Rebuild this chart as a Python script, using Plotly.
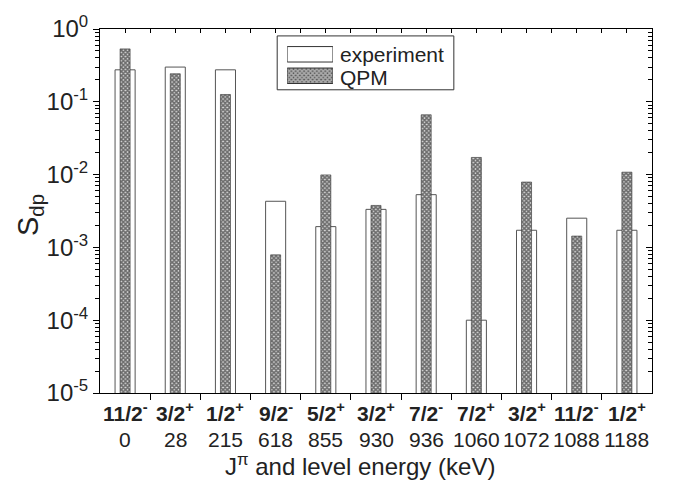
import plotly.graph_objects as go

# Level data: spin-parity, level energy (keV), spectroscopic factors
spins = ["11/2<sup>-</sup>", "3/2<sup>+</sup>", "1/2<sup>+</sup>", "9/2<sup>-</sup>", "5/2<sup>+</sup>",
         "3/2<sup>+</sup>", "7/2<sup>-</sup>", "7/2<sup>+</sup>", "3/2<sup>+</sup>", "11/2<sup>-</sup>",
         "1/2<sup>+</sup>"]
energies = ["0", "28", "215", "618", "855", "930", "936", "1060", "1072", "1088", "1188"]
s_exp = [0.275, 0.30, 0.275, 0.0043, 0.00193, 0.00333, 0.0053, 0.00010, 0.00172, 0.00252, 0.00172]
s_qpm = [0.533, 0.243, 0.126, 0.00079, 0.0099, 0.00377, 0.0663, 0.0172, 0.0079, 0.00143, 0.0108]
legend_names = ["experiment", "QPM"]

FONT = "Liberation Sans, Arial, sans-serif"
TXT = "#222"
idx = list(range(len(spins)))
bounds = [i + 0.5 for i in idx[:-1]]
decades = list(range(-5, 1))
major_vals = [10.0 ** e for e in decades]
major_text = ["10<sup>%d</sup>" % e for e in decades]
minor_vals = [m * 10.0 ** e for e in decades[:-1] for m in range(2, 10)]

QPM_FILL = "#555"
qpm_pattern = dict(shape="x", size=3, solidity=0.75, fgcolor="#000", bgcolor="#d8d8d8")

fig = go.Figure()
fig.add_trace(go.Bar(
    x=idx, y=s_exp, width=0.4, name=legend_names[0], showlegend=False,
    marker=dict(color="white", line=dict(color="#555", width=1)),
))
fig.add_trace(go.Bar(
    x=idx, y=s_qpm, width=0.2, name=legend_names[1], showlegend=False,
    xaxis="x2", yaxis="y2",
    marker=dict(color=QPM_FILL, pattern=qpm_pattern, line=dict(color="#333", width=0.6)),
))

# legend swatches on their own small axes
fig.add_trace(go.Bar(
    x=[1, 1], y=[1.5, 0.5], orientation="h", width=[0.72, 0.72], showlegend=False,
    xaxis="x3", yaxis="y3", hoverinfo="skip",
    marker=dict(color=["white", QPM_FILL],
                pattern=dict(shape=["", "x"], size=3, solidity=0.75, fgcolor="#000",
                             bgcolor="#d8d8d8"),
                line=dict(color="#333", width=1)),
))

axis_common = dict(showgrid=False, zeroline=False, showline=True, linecolor="black", linewidth=1)

fig.update_layout(
    width=684, height=480,
    margin=dict(l=100, r=32, t=21, b=87),
    paper_bgcolor="white", plot_bgcolor="white",
    barmode="overlay",
    font=dict(family=FONT, color=TXT),
    xaxis=dict(**axis_common, range=[-0.5, 10.5], tickmode="array", tickvals=idx,
               ticktext=[""] * len(idx), ticks="",
               minor=dict(tickmode="array", tickvals=bounds,
                          ticks="outside", ticklen=6, tickcolor="black")),
    xaxis2=dict(**axis_common, overlaying="x", side="top", anchor="y2", range=[-0.5, 10.5],
                tickmode="array", tickvals=[i * 0.5 - 0.5 for i in range(1, 22)],
                ticks="inside", ticklen=4, tickcolor="black", showticklabels=False),
    xaxis4=dict(showgrid=False, zeroline=False, showline=False, overlaying="x", side="bottom",
                anchor="y", range=[-0.5, 10.5], tickmode="array", tickvals=bounds,
                ticks="inside", ticklen=5, tickcolor="black", showticklabels=False),
    yaxis=dict(**axis_common, type="log", range=[-5, 0], tickmode="array",
               tickvals=major_vals, ticktext=major_text, ticks="outside", ticklen=6,
               tickcolor="black", tickfont=dict(size=24, family=FONT, color=TXT),
               minor=dict(tickmode="array", tickvals=minor_vals, ticks="outside",
                          ticklen=4, tickcolor="black")),
    yaxis2=dict(**axis_common, type="log", range=[-5, 0], overlaying="y", side="right",
                anchor="x2", tickmode="array", tickvals=major_vals, ticks="inside", ticklen=6,
                tickcolor="black", showticklabels=False,
                minor=dict(tickmode="array", tickvals=minor_vals, ticks="inside",
                           ticklen=4, tickcolor="black")),
    xaxis3=dict(domain=[0.339, 0.422], range=[0, 1], visible=False, fixedrange=True,
                anchor="y3"),
    yaxis3=dict(domain=[0.842, 0.960], range=[0, 2], visible=False, fixedrange=True,
                anchor="x3"),
)

# legend frame and labels
fig.add_shape(type="rect", xref="paper", yref="paper", x0=0.321, x1=0.641, y0=0.833, y1=0.981,
              line=dict(color="#333", width=1), fillcolor="rgba(0,0,0,0)", layer="above")
for name, yy in zip(legend_names, [0.930, 0.866]):
    fig.add_annotation(text=name, xref="paper", yref="paper", x=0.432, y=yy,
                       xanchor="left", yanchor="middle", showarrow=False,
                       font=dict(size=21, family=FONT, color=TXT))

# category labels: spin-parity (bold) and level energy
for i, (sp, en) in enumerate(zip(spins, energies)):
    fig.add_annotation(text="<b>%s</b>" % sp, x=i, xref="x", y=-0.052, yref="paper",
                       xanchor="center", yanchor="middle", showarrow=False,
                       font=dict(size=21, family=FONT, color=TXT))
    fig.add_annotation(text=en, x=i, xref="x", y=-0.127, yref="paper",
                       xanchor="center", yanchor="middle", showarrow=False,
                       font=dict(size=21, family=FONT, color=TXT))

fig.add_annotation(text="J<sup>\u03c0</sup> and level energy (keV)", xref="paper", yref="paper",
                   x=0.471, y=-0.199, xanchor="center", yanchor="middle", showarrow=False,
                   font=dict(size=24, family=FONT, color=TXT))
fig.add_annotation(text="S<sub>dp</sub>", xref="paper", yref="paper", x=-0.128, y=0.49,
                   xanchor="center", yanchor="middle", textangle=-90, showarrow=False,
                   font=dict(size=29, family=FONT, color=TXT))

fig.write_html("out.html")
